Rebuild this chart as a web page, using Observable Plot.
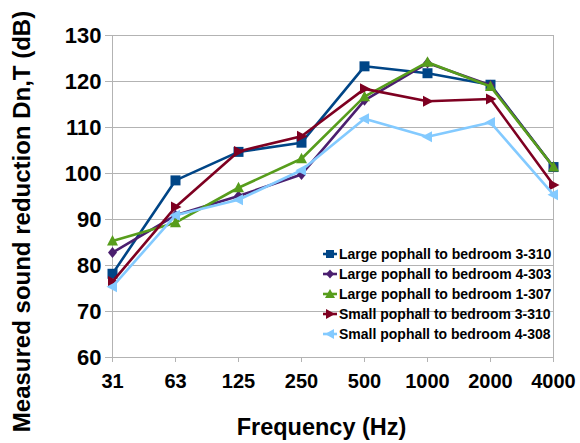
<!DOCTYPE html>
<html><head><meta charset="utf-8">
<script src="https://cdn.jsdelivr.net/npm/d3@7"></script>
<script src="https://cdn.jsdelivr.net/npm/@observablehq/plot@0.6"></script>
<style>
body{margin:0;background:#fff;font-family:"Liberation Sans",Arial,sans-serif;}
#wrap{position:relative;width:580px;height:443px;}
#legend{position:absolute;left:322px;top:244px;font-size:14px;font-weight:bold;color:#000;}
.row{display:flex;align-items:center;height:20px;white-space:nowrap;}
.row svg{margin-right:1px;}
</style></head><body><div id="wrap"></div>
<script>
const frequencies = ["31","63","125","250","500","1000","2000","4000"];
const seriesNames = [
  "Large pophall to bedroom 3-310",
  "Large pophall to bedroom 4-303",
  "Large pophall to bedroom 1-307",
  "Small pophall to bedroom 3-310",
  "Small pophall to bedroom 4-308"
];
const seriesColors = ["#004586","#4b1f6f","#579d1c","#7e0021","#83caff"];
const large3310 = [78.2, 98.5, 104.7, 106.7, 123.3, 121.8, 119.3, 101.4];
const large4303 = [82.8, 90.9, 95.1, 99.8, 115.9, 124.0, 119.2, 101.4];
const large1307 = [85.3, 89.3, 96.9, 103.2, 116.7, 124.2, 118.9, 101.4];
const small3310 = [76.5, 92.7, 104.8, 108.1, 118.4, 115.7, 116.2, 97.5];
const small4308 = [75.4, 90.9, 94.3, 100.7, 111.9, 108.0, 111.1, 95.4];
const yTicks = [60,70,80,90,100,110,120,130];
const xTitle = "Frequency (Hz)";
const yTitle = "Measured sound reduction Dn,T (dB)";

const seriesValues = [large3310, large4303, large1307, small3310, small4308];

// marker shapes
const symSquare = {draw(c){c.rect(-5,-5,10,10);}};
const symDiamond = {draw(c){c.moveTo(0,-5.5);c.lineTo(4.5,0);c.lineTo(0,5.5);c.lineTo(-4.5,0);c.closePath();}};
const symUp = {draw(c){c.moveTo(0,-6);c.lineTo(5.5,4.5);c.lineTo(-5.5,4.5);c.closePath();}};
const symRight = {draw(c){c.moveTo(6,0);c.lineTo(-4.5,-5.5);c.lineTo(-4.5,5.5);c.closePath();}};
const symLeft = {draw(c){c.moveTo(-6,0);c.lineTo(4.5,-5.5);c.lineTo(4.5,5.5);c.closePath();}};
const symbols = [symSquare, symDiamond, symUp, symRight, symLeft];

const marks = [
  Plot.gridY(yTicks, {stroke:"#b3b3b3", strokeOpacity:1, strokeWidth:1}),
  Plot.ruleX([frequencies[0], frequencies[frequencies.length-1]], {stroke:"#b3b3b3", strokeWidth:1}),
  Plot.axisY(yTicks, {tickSize:5, tickPadding:4, fontSize:22, fontWeight:"bold", stroke:"#b3b3b3", color:"#000", label:null}),
  Plot.axisX(frequencies, {tickSize:5, tickPadding:11, fontSize:20, fontWeight:"bold", stroke:"#b3b3b3", label:null}),
  Plot.text([yTitle], {frameAnchor:"left", textAnchor:"middle", rotate:-90, dx:-88, dy:25, fontSize:24, fontWeight:"bold", fill:"#000"}),
  Plot.text([xTitle], {frameAnchor:"bottom", textAnchor:"middle", dx:-11, dy:77, fontSize:23.5, fontWeight:"bold", fill:"#000"})
];

seriesNames.forEach((name, i) => {
  const rows = frequencies.map((f, j) => ({freq: f, value: seriesValues[i][j]}));
  marks.push(Plot.line(rows, {x:"freq", y:"value", stroke: seriesColors[i], strokeWidth:2.6}));
  marks.push(Plot.dot(rows, {x:"freq", y:"value", symbol: symbols[i], r:1, fill: seriesColors[i], stroke:"none"}));
});

const chart = Plot.plot({
  width: 580, height: 443,
  marginLeft: 110, marginRight: 26, marginTop: 35, marginBottom: 86,
  style: {fontFamily: '"Liberation Sans", Arial, sans-serif', background:"#fff", color:"#000"},
  x: {type:"point", domain: frequencies, padding: 0},
  y: {domain:[60,130]},
  marks
});
const wrap = document.getElementById("wrap");
wrap.appendChild(chart);

// legend
const legend = document.createElement("div");
legend.id = "legend";
const paths = [
  "M2,3h8v8h-8z",
  "M6,2.5L10,7L6,11.5L2,7z",
  "M6,2L11,11H1z",
  "M11,7L2,2V12z",
  "M1,7L10,2V12z"
];
seriesNames.forEach((name, i) => {
  const row = document.createElement("div");
  row.className = "row";
  row.innerHTML = `<svg width="16" height="14" viewBox="0 0 16 14"><line x1="1" x2="15" y1="7" y2="7" stroke="${seriesColors[i]}" stroke-width="2.6"/><path transform="translate(2,0)" d="${paths[i]}" fill="${seriesColors[i]}"/></svg><span>${name}</span>`;
  legend.appendChild(row);
});
wrap.appendChild(legend);
</script></body></html>
